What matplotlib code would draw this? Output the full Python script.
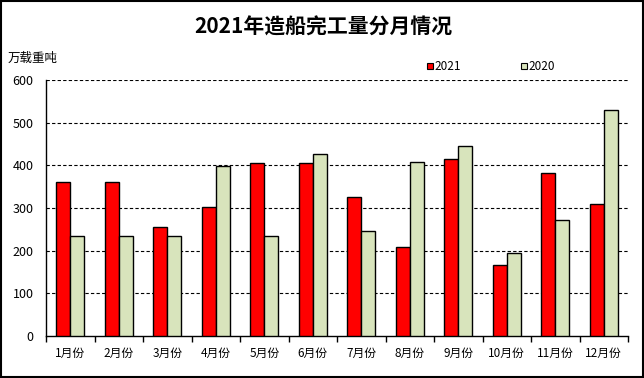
import matplotlib
matplotlib.use("Agg")
import matplotlib.pyplot as plt
import numpy as np
from matplotlib.patches import Rectangle

plt.rcParams['font.family'] = ['Noto Sans CJK SC', 'DejaVu Sans']

months = ['1月份', '2月份', '3月份', '4月份', '5月份', '6月份',
          '7月份', '8月份', '9月份', '10月份', '11月份', '12月份']
vals_2021 = [360, 360, 255, 302, 405, 405, 326, 208, 414, 166, 381, 309]
vals_2020 = [234, 234, 234, 398, 234, 426, 245, 407, 445, 194, 273, 529]
yticks = [0, 100, 200, 300, 400, 500, 600]

W, H = 644, 378
fig = plt.figure(figsize=(W / 100, H / 100), dpi=100)
ax = fig.add_axes([46 / W, 1 - 336 / H, 582 / W, 256 / H])

x = np.arange(len(months))
bw = 0.29
ax.bar(x - bw / 2, vals_2021, bw, color='#FF0000', edgecolor='black', linewidth=1, zorder=3)
ax.bar(x + bw / 2, vals_2020, bw, color='#D8E4BC', edgecolor='black', linewidth=1, zorder=3)

ax.set_xlim(-0.5, len(months) - 0.5)
ax.set_ylim(0, 600)
ax.set_yticks(yticks)
ax.tick_params(axis='y', length=0, pad=9, labelsize=9)
ax.set_xticks(x)
ax.set_xticklabels(months)
ax.tick_params(axis='x', which='major', length=0, pad=8, labelsize=8.5)
ax.set_xticks(np.arange(-0.5, len(months), 1), minor=True)
ax.tick_params(axis='x', which='minor', length=4, direction='out', width=1)

for y in yticks[1:]:
    ax.axhline(y, color='black', linestyle=(0, (3, 2)), linewidth=0.8, zorder=1)

ax.spines['top'].set_visible(False)
ax.spines['right'].set_visible(False)
ax.spines['left'].set_linewidth(1)
ax.spines['bottom'].set_linewidth(1)

fig.text(323 / W, 1 - 27 / H, '2021年造船完工量分月情况', ha='center', va='center',
         fontsize=15, fontweight='bold')
fig.text(8 / W, 1 - 58 / H, '万载重吨', ha='left', va='center', fontsize=9)

# legend
for x0, col, lab in [(427, '#FF0000', '2021'), (521, '#D8E4BC', '2020')]:
    fig.patches.append(Rectangle((x0 / W, 1 - 69 / H), 6 / W, 6 / H, transform=fig.transFigure,
                                 facecolor=col, edgecolor='black', linewidth=0.8))
    fig.text((x0 + 7) / W, 1 - 66 / H, lab, ha='left', va='center', fontsize=8.5)

fig.patches.append(Rectangle((0.001, 0.002), 0.997, 0.996, transform=fig.transFigure,
                             fill=False, edgecolor='black', linewidth=1.5))

fig.savefig('out.png', dpi=100)
